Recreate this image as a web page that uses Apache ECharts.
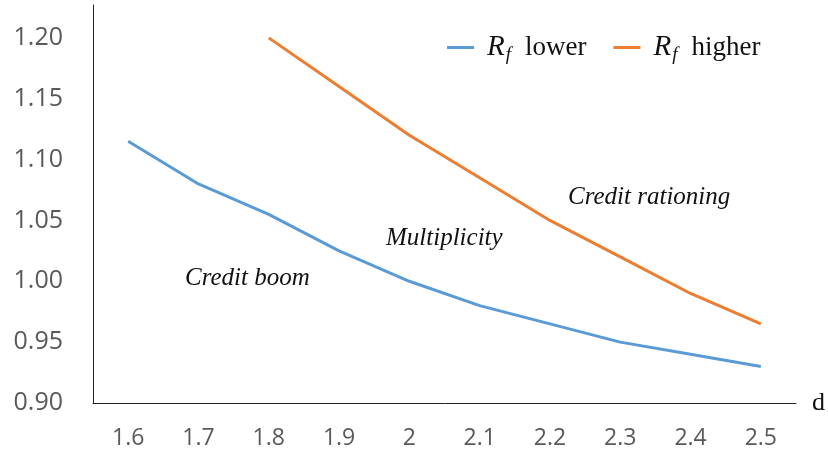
<!DOCTYPE html>
<html><head><meta charset="utf-8">
<script src="https://cdn.jsdelivr.net/npm/echarts@6/dist/echarts.min.js"></script>
<style>html,body{margin:0;padding:0;background:#fff}#c{width:828px;height:459px}</style>
</head><body><div id="c"></div>
<script>
const categories = ['1.6','1.7','1.8','1.9','2','2.1','2.2','2.3','2.4','2.5'];
const rfLower = [1.115, 1.08, 1.055, 1.025, 1.00, 0.98, 0.965, 0.95, 0.94, 0.93];
const rfHigher = [null, null, 1.20, 1.16, 1.12, 1.085, 1.05, 1.02, 0.99, 0.965];
const yTicks = [0.90, 0.95, 1.00, 1.05, 1.10, 1.15, 1.20];
const regionLabels = ['Credit boom', 'Multiplicity', 'Credit rationing'];

const chart = echarts.init(document.getElementById('c'));
const serif = '"Liberation Serif","DejaVu Serif",serif';
chart.setOption({
  animation: false,
  grid: {left: 93, right: 32, top: 5, bottom: 56},
  legend: {
    left: 442, top: 28, itemWidth: 27, itemHeight: 3, itemGap: 27, icon: 'rect',
    formatter: function(name){ return name === 'lower' ? '{i|R}{s|f}lower' : '{i|R}{s|f}higher'; },
    textStyle: {
      fontFamily: serif, fontSize: 27, color: '#111', padding: [0,0,0,8],
      rich: {
        i: {fontFamily: serif, fontStyle: 'italic', fontSize: 29, color: '#111'},
        s: {fontFamily: serif, fontStyle: 'italic', fontSize: 19, color: '#111', padding: [14,14,0,1]}
      }
    },
    data: ['lower','higher']
  },
  xAxis: {
    type: 'category', data: categories, boundaryGap: true,
    axisLine: {lineStyle: {color: '#222', width: 1}}, axisTick: {show: false},
    axisLabel: {color: '#595959', fontFamily: '"Open Sans",sans-serif', fontSize: 23, margin: 24},
    name: 'd', nameLocation: 'end', nameGap: 16,
    nameTextStyle: {fontFamily: serif, fontSize: 26, color: '#111', verticalAlign: 'middle'}
  },
  yAxis: {
    type: 'value', min: 0.9, max: 1.227, interval: 0.05,
    axisLine: {show: true, lineStyle: {color: '#222', width: 1}}, axisTick: {show: false},
    splitLine: {show: false},
    axisLabel: {color: '#595959', fontFamily: '"Open Sans",sans-serif', fontSize: 25, margin: 30,
      formatter: function(v){
        const m = yTicks.find(t => Math.abs(t - v) < 1e-6);
        return m === undefined ? '' : m.toFixed(2);
      }}
  },
  graphic: [
    {type: 'text', left: 185, top: 266, style: {text: regionLabels[0], font: 'italic 25px "Liberation Serif"', fill: '#111'}},
    {type: 'text', left: 386, top: 226, style: {text: regionLabels[1], font: 'italic 25px "Liberation Serif"', fill: '#111'}},
    {type: 'text', left: 568, top: 185, style: {text: regionLabels[2], font: 'italic 25px "Liberation Serif"', fill: '#111'}}
  ],
  series: [
    {name: 'lower', type: 'line', data: rfLower, symbol: 'none', lineStyle: {color: '#5B9BD5', width: 3}, itemStyle: {color: '#5B9BD5'}},
    {name: 'higher', type: 'line', data: rfHigher, symbol: 'none', lineStyle: {color: '#ED7D31', width: 3}, itemStyle: {color: '#ED7D31'}}
  ]
});
</script></body></html>
